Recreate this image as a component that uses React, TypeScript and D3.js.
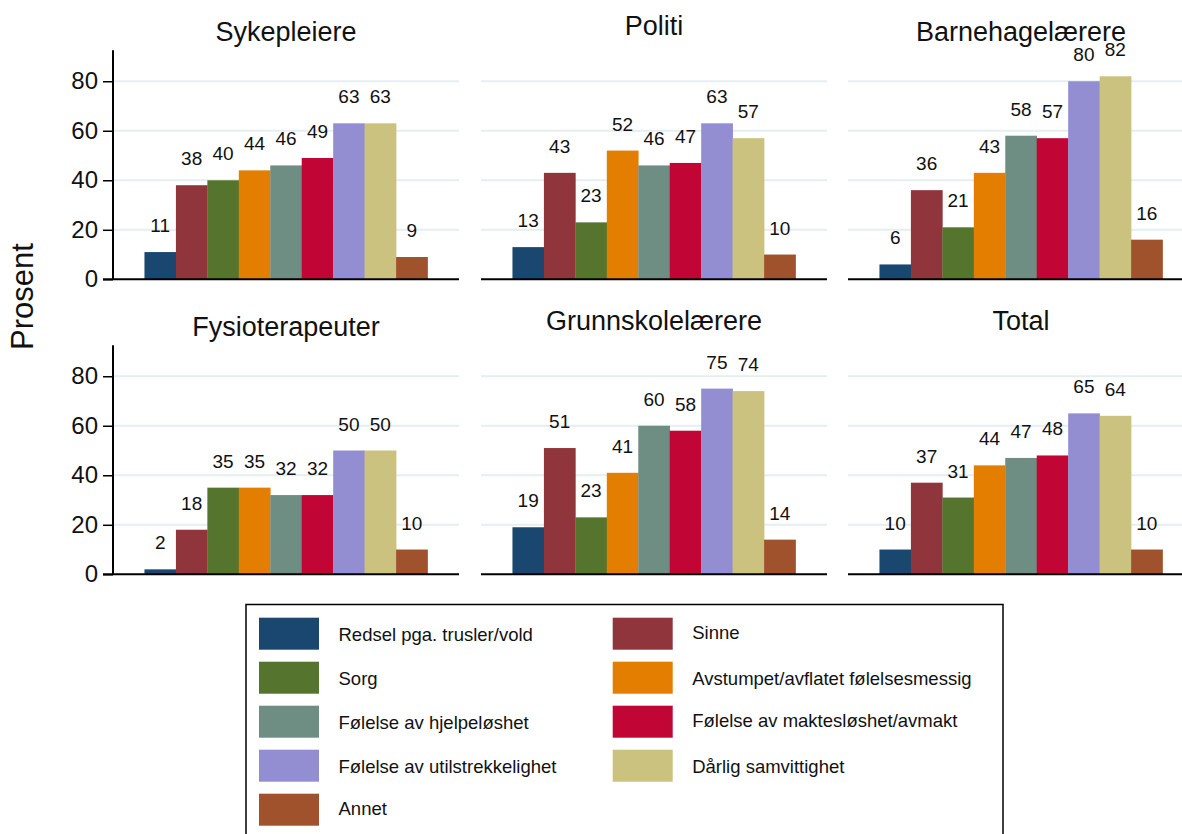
import * as d3 from "d3";
import { useEffect, useRef } from "react";

const categories = [
    "Redsel pga. trusler/vold",
    "Sinne",
    "Sorg",
    "Avstumpet/avflatet følelsesmessig",
    "Følelse av hjelpeløshet",
    "Følelse av maktesløshet/avmakt",
    "Følelse av utilstrekkelighet",
    "Dårlig samvittighet",
    "Annet",
];

const colors = [
    "#1a476f",
    "#90353b",
    "#55752f",
    "#e37e00",
    "#6e8e84",
    "#c10534",
    "#938dd2",
    "#cac27e",
    "#a0522d",
];

const groups = [
    "Sykepleiere",
    "Politi",
    "Barnehagelærere",
    "Fysioterapeuter",
    "Grunnskolelærere",
    "Total",
];

const sykepleiere = [11, 38, 40, 44, 46, 49, 63, 63, 9];
const politi = [13, 43, 23, 52, 46, 47, 63, 57, 10];
const barnehagelaerere = [6, 36, 21, 43, 58, 57, 80, 82, 16];
const fysioterapeuter = [2, 18, 35, 35, 32, 32, 50, 50, 10];
const grunnskolelaerere = [19, 51, 23, 41, 60, 58, 75, 74, 14];
const total = [10, 37, 31, 44, 47, 48, 65, 64, 10];

const yTicks = [0, 20, 40, 60, 80];

const W = 1182;
const H = 834;
const FONT = "'Liberation Sans', Arial, Helvetica, sans-serif";

export default function App() {
    const ref = useRef<SVGSVGElement | null>(null);

    useEffect(() => {
        const svg = d3.select(ref.current);
        svg.selectAll("*").remove();

        const values = [
            sykepleiere,
            politi,
            barnehagelaerere,
            fysioterapeuter,
            grunnskolelaerere,
            total,
        ];

        // panel geometry
        const colX = [113, 481, 848];
        const plotW = 346;
        const rowZero = [279.3, 574.3];
        const plotH = 229;

        groups.forEach((name, gi) => {
            const col = gi % 3;
            const row = Math.floor(gi / 3);
            const x0 = colX[col];
            const zero = rowZero[row];

            const x = d3
                .scaleBand<number>()
                .domain(d3.range(categories.length))
                .range([x0, x0 + plotW])
                .paddingInner(0)
                .paddingOuter(1);
            const y = d3
                .scaleLinear()
                .domain([0, 92.5])
                .range([zero, zero - plotH]);

            const g = svg.append("g");

            // gridlines
            g.append("g")
                .selectAll("line")
                .data(yTicks.filter((t) => t > 0))
                .join("line")
                .attr("x1", x0)
                .attr("x2", x0 + plotW)
                .attr("y1", (d) => y(d))
                .attr("y2", (d) => y(d))
                .attr("stroke", "#e5eef1")
                .attr("stroke-width", 2);

            // bars
            g.append("g")
                .selectAll("rect")
                .data(values[gi])
                .join("rect")
                .attr("x", (d, i) => x(i) ?? 0)
                .attr("y", (d) => y(d))
                .attr("width", x.bandwidth() + 0.3)
                .attr("height", (d) => y(0) - y(d))
                .attr("fill", (d, i) => colors[i]);

            // value labels
            g.append("g")
                .selectAll("text")
                .data(values[gi])
                .join("text")
                .attr("x", (d, i) => (x(i) ?? 0) + x.bandwidth() / 2)
                .attr("y", (d) => y(d) - 20)
                .attr("text-anchor", "middle")
                .attr("font-size", 19)
                .attr("font-family", FONT)
                .attr("fill", "#111")
                .text((d) => String(d));

            // baseline
            g.append("line")
                .attr("x1", x0 - (col === 0 ? 10 : 0))
                .attr("x2", x0 + plotW)
                .attr("y1", zero)
                .attr("y2", zero)
                .attr("stroke", "#000")
                .attr("stroke-width", 2);

            // y axis for first column
            if (col === 0) {
                const yAxis = d3
                    .axisLeft(y)
                    .tickValues(yTicks)
                    .tickSize(10)
                    .tickPadding(5);
                const ax = g
                    .append("g")
                    .attr("transform", `translate(${x0},0)`)
                    .call(yAxis);
                ax.select(".domain").remove();
                ax.selectAll("line")
                    .attr("stroke", "#000")
                    .attr("stroke-width", 1.5);
                ax.selectAll("text")
                    .attr("font-size", 24)
                    .attr("font-family", FONT)
                    .attr("fill", "#111");
                ax.append("line")
                    .attr("x1", 0)
                    .attr("x2", 0)
                    .attr("y1", y(92.5))
                    .attr("y2", zero)
                    .attr("stroke", "#000")
                    .attr("stroke-width", 2);
            }

            // panel title
            const hasDesc = /[gjpqy]/.test(name);
            g.append("text")
                .attr("x", x0 + plotW / 2)
                .attr("y", row * 295 + (hasDesc ? 41 : 35))
                .attr("text-anchor", "middle")
                .attr("font-size", 27)
                .attr("font-family", FONT)
                .attr("fill", "#111")
                .text(name);
        });

        // y axis title
        svg.append("text")
            .attr("transform", "translate(33,296.5) rotate(-90)")
            .attr("text-anchor", "middle")
            .attr("font-size", 31)
            .attr("font-family", FONT)
            .attr("fill", "#111")
            .text("Prosent");

        // legend
        const lg = svg.append("g");
        lg.append("rect")
            .attr("x", 246)
            .attr("y", 604.5)
            .attr("width", 757)
            .attr("height", 260)
            .attr("fill", "#fff")
            .attr("stroke", "#000")
            .attr("stroke-width", 1.5);

        const legendCols = [259, 612.7];
        const items = lg
            .selectAll("g.item")
            .data(categories)
            .join("g")
            .attr("class", "item")
            .attr(
                "transform",
                (d, i) =>
                    `translate(${legendCols[i % 2]},${617.7 + Math.floor(i / 2) * 44})`
            );
        items
            .append("rect")
            .attr("width", 60)
            .attr("height", 32)
            .attr("fill", (d, i) => colors[i]);
        items
            .append("text")
            .attr("x", 79.5)
            .attr("y", (d) => (/[gjpqy]/.test(d) ? 23.5 : 21))
            .attr("font-size", 18.5)
            .attr("font-family", FONT)
            .attr("fill", "#111")
            .text((d) => d);
    }, []);

    return (
        <svg
            ref={ref}
            width={W}
            height={H}
            style={{ position: "absolute", left: 0, top: 0, background: "#fff" }}
        />
    );
}
